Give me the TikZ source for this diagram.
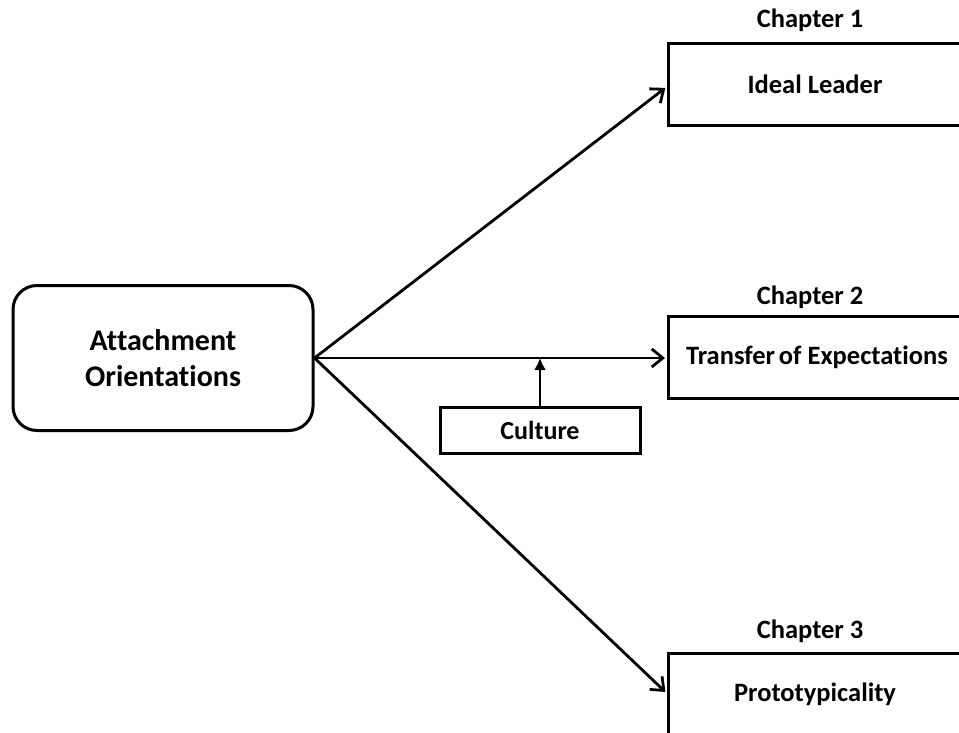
\documentclass[tikz,border=0pt]{standalone}
\usepackage{fontspec}
\setmainfont[Ligatures=NoCommon]{Carlito}
\usetikzlibrary{arrows.meta}

\begin{document}
\begin{tikzpicture}[x=1pt, y=-1pt, line width=3pt,
  chapter box/.style={draw, rectangle, minimum width=298pt, minimum height=82pt,
                      inner sep=0pt, font=\fontsize{26.5}{31}\selectfont\bfseries},
  chapter label/.style={font=\fontsize{26.5}{31}\selectfont\bfseries, inner sep=0pt},
  link/.style={-{Straight Barb[length=11pt, width=18pt, line width=2.8pt]}, line width=2.8pt, shorten >=1.5pt}]

\useasboundingbox (0,0) rectangle (959,732);
\clip (0,0) rectangle (959,732);

\node[draw, rounded corners=24pt, minimum width=300pt, minimum height=145pt,
      align=center, font=\fontsize{30}{36}\selectfont\bfseries](ao) at (163,358)
      {Attachment\\Orientations};

\node[chapter box](ideal) at (817,84) {\hspace*{-4pt}Ideal Leader};
\node[chapter box](transfer) at (817,357) {Transfer\hspace{-2pt} of Expectations};
\node[chapter box](proto) at (817,694) {\hspace*{-4pt}Prototypicality};

\node[chapter label](ch1) at (810,20) {Chapter 1};
\node[chapter label](ch2) at (810,297) {Chapter 2};
\node[chapter label](ch3) at (810,631) {Chapter 3};

\node[draw, rectangle, minimum width=200pt, minimum height=46pt, inner sep=0pt,
      font=\fontsize{26}{31}\selectfont\bfseries](culture) at (540,430) {Culture};

\draw[link] (ao.east) -- (ideal.west |- 0,87);
\draw[link] (ao.east) -- (transfer.west |- ao.east);
\draw[link] (ao.east) -- (proto.west |- 0,693);

\coordinate (meet) at (culture.north |- ao.east);
\draw[-{Latex[length=12pt, width=12pt]}, line width=2.8pt] (culture.north) -- (meet);

\end{tikzpicture}
\end{document}
